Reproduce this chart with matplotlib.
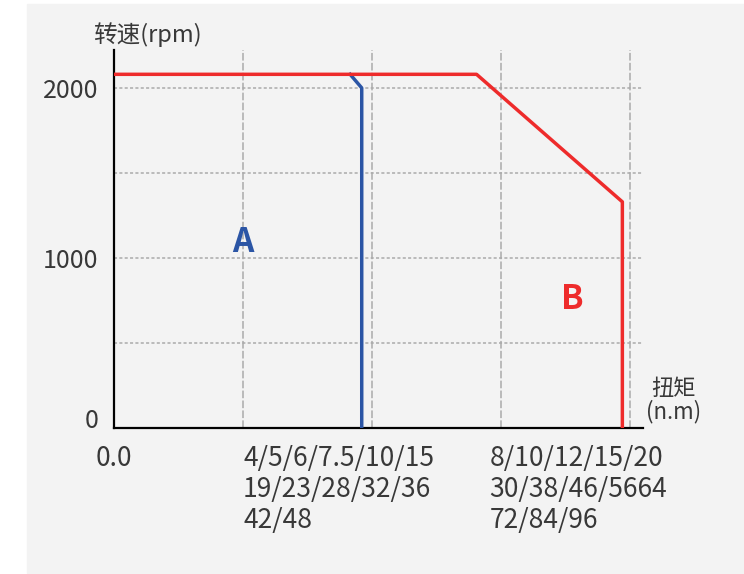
import matplotlib
matplotlib.use("Agg")
import matplotlib.pyplot as plt
from matplotlib.patches import Rectangle

plt.rcParams['font.family'] = ['Noto Sans CJK SC', 'DejaVu Sans']

# curve A (blue) and curve B (red): torque index vs speed (rpm)
a_x = [1.83, 1.92, 1.92]
a_y = [2080, 2000, 0]
b_x = [0.0, 2.81, 3.94, 3.94]
b_y = [2080, 2080, 1330, 0]

y_ticks = [0, 1000, 2000]
y_grid = [500, 1000, 1500, 2000]
x_grid = [1, 2, 3, 4]
x_tick_pos = [0.0, 1.0, 2.91]
x_tick_labels = ['0.0',
                 '4/5/6/7.5/10/15\n19/23/28/32/36\n42/48',
                 '8/10/12/15/20\n30/38/46/5664\n72/84/96']

blue = '#2b55a5'
red = '#ee2b2b'
txt = '#383838'

fig = plt.figure(figsize=(7.44, 5.74), dpi=100)
fig.patches.append(Rectangle((27 / 744, 1 / 574), 1 - 27 / 744, 569 / 574,
                             transform=fig.transFigure, color='#f3f3f3', zorder=-10))
ax = fig.add_axes([114 / 744, 146 / 574, 529 / 744, 378 / 574])
ax.patch.set_alpha(0)

for gx in x_grid:
    ax.axvline(gx, color='#aaaaaa', lw=1.1, ls=(0, (5, 1.5)), zorder=1)
for gy in y_grid:
    ax.axhline(gy, color='#aaaaaa', lw=1.1, ls=(0, (2, 1.5)), zorder=1)

ax.plot(a_x, a_y, color=blue, lw=2.5, zorder=3)
ax.plot(b_x, b_y, color=red, lw=2.5, zorder=4)

ax.text(1.0, 1090, 'A', color=blue, fontsize=24, fontweight='bold', ha='center', va='center')
ax.text(3.55, 755, 'B', color=red, fontsize=24, fontweight='bold', ha='center', va='center')

ax.set_xlim(0, 4.1)
ax.set_ylim(0, 2223)
for s in ['top', 'right']:
    ax.spines[s].set_visible(False)
for s in ['left', 'bottom']:
    ax.spines[s].set_linewidth(1.6)
    ax.spines[s].set_color('black')

ax.set_yticks(y_ticks)
ax.set_yticklabels([str(v) for v in y_ticks])
ax.tick_params(axis='y', length=0, pad=11, labelsize=18, labelcolor=txt)
ax.get_yticklabels()[0].set_va('baseline')
ax.set_xticks(x_tick_pos)
ax.set_xticklabels(x_tick_labels, linespacing=1.2)
ax.tick_params(axis='x', length=0, pad=12, labelsize=19, labelcolor=txt)
for lbl in ax.get_xticklabels()[1:]:
    lbl.set_ha('left')

ax.set_ylabel('转速(rpm)', rotation=0, ha='left', va='center', fontsize=17, color=txt)
ax.yaxis.set_label_coords(-0.04, 1.042)
ax.text(1.057, 0.074, '扭矩\n(n.m)', transform=ax.transAxes, ha='center', va='center',
        fontsize=16, color=txt, linespacing=1.0)

fig.savefig('out.png', dpi=100)
